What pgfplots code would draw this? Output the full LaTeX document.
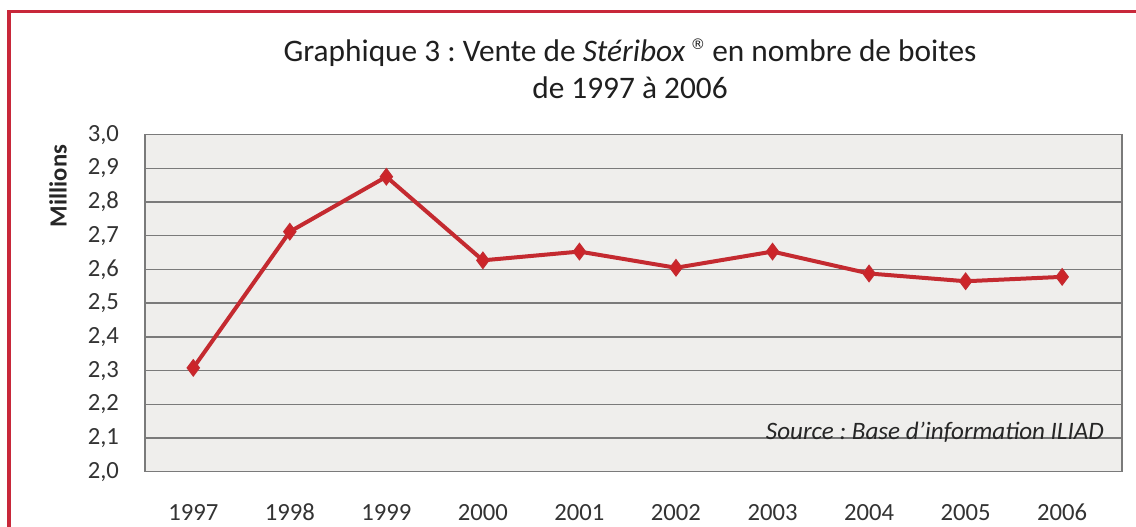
\documentclass[border=0pt]{standalone}
\usepackage{fontspec}
\setmainfont{Carlito}
\newfontfamily\symfont{DejaVu Sans}
\usepackage{pgfplots}
\pgfplotsset{compat=1.18}
\frenchspacing
\definecolor{framered}{HTML}{C8283A}
\definecolor{linered}{HTML}{C42A30}
\definecolor{plotbg}{HTML}{EFEEEC}
\definecolor{gridgray}{HTML}{7A7A7A}
\begin{document}
\begin{tikzpicture}
\useasboundingbox (0,0) rectangle (1136*0.75pt,-526*0.75pt);
% frame
\draw[framered, line width=3.5*0.75pt] (9*0.75pt,-560*0.75pt) -- (9*0.75pt,-11.5*0.75pt) -- (1170*0.75pt,-11.5*0.75pt);
% title
\node[align=center, font=\fontsize{23.5}{28}\selectfont, text=black!88] at (630*0.75pt,-69*0.75pt)
  {Graphique 3 : Vente de \textit{Stéribox}\,\raisebox{0.75ex}{\symfont\fontsize{11}{11}\selectfont ®} en nombre de boites\\de 1997 à 2006};
% y label
\node[rotate=90, font=\fontsize{18.5}{20}\bfseries\selectfont, text=black!85] at (58*0.75pt,-186*0.75pt) {Millions};
\begin{axis}[
  at={(145*0.75pt,-471.7*0.75pt)}, anchor=south west,
  scale only axis,
  width=977*0.75pt, height=337.1*0.75pt,
  xmin=-0.5, xmax=9.62,
  ymin=2.0, ymax=3.0,
  ytick={2.0,2.1,...,3.01},
  xtick={0,...,9},
  xticklabels={1997,1998,1999,2000,2001,2002,2003,2004,2005,2006},
  /pgf/number format/.cd, use comma, fixed, fixed zerofill, precision=1, assume math mode=true,
  /pgfplots/.cd,
  ticklabel style={font=\fontsize{18.5}{20}\selectfont, text=black!80},
  yticklabel style={xshift=-16pt},
  xticklabel style={yshift=-26pt, text height=1.45ex, text depth=0pt},
  major tick length=0pt,
  ymajorgrids,
  grid style={gridgray, line width=1.1pt},
  axis line style={gridgray, line width=1.1pt},
  axis background/.style={fill=plotbg},
  clip=false,
]
\addplot[linered, line width=3pt, mark=diamond*, mark size=6pt, mark options={fill=linered!85!red, draw=linered, line width=1pt}]
  coordinates {(0,2.308) (1,2.712) (2,2.875) (3,2.627) (4,2.653) (5,2.605) (6,2.653) (7,2.588) (8,2.565) (9,2.578)};
\node[anchor=east, font=\fontsize{18.8}{20}\itshape\selectfont, text=black!85] at (axis cs:9.48,2.118) {Source : Base d'information ILIAD};
\end{axis}
\end{tikzpicture}
\end{document}
